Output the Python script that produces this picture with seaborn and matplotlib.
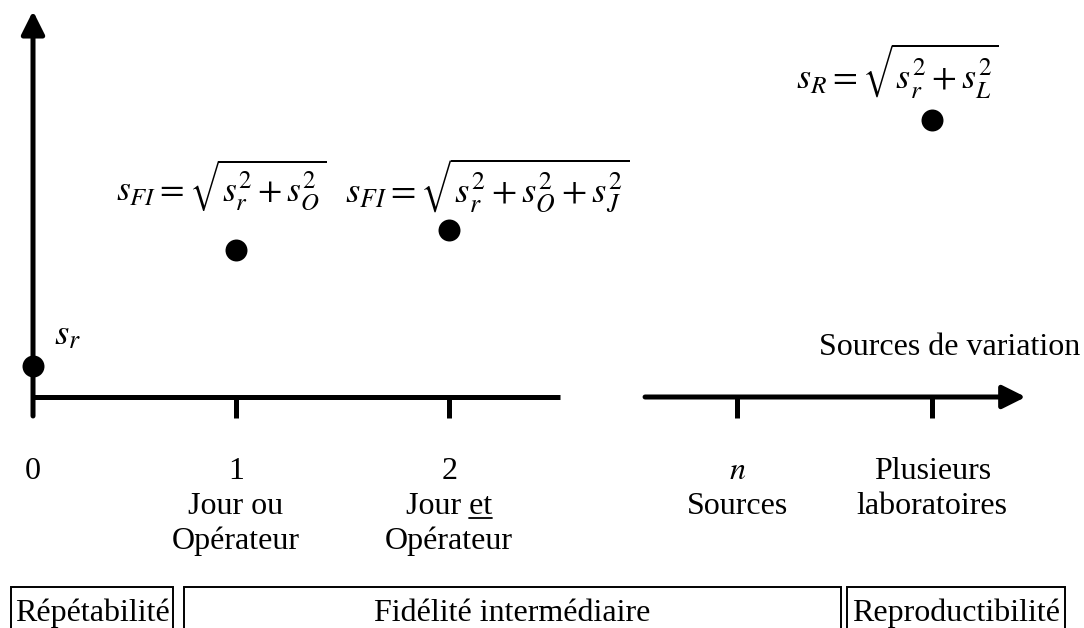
import matplotlib
matplotlib.use("Agg")
import matplotlib.pyplot as plt
import seaborn as sns
from matplotlib.patches import Rectangle

# levels on the "sources de variation" axis (one unit = distance 0 -> 1)
level_x = [0.0, 1.0, 2.05, 3.47, 4.43]
level_top = ["0", "1", "2", "$n$", "Plusieurs"]
level_line2 = ["", "Jour ou", "Jour et", "Sources", "laboratoires"]
level_line3 = ["", "Opérateur", "Opérateur", "", ""]

# standard deviations shown as points
point_x = [0.0, 1.0, 2.05, 4.43]
point_sd = [0.31, 1.47, 1.67, 2.77]
point_labels = [
    r"$s_r$",
    r"$s_{FI} = \sqrt{s_r^2 + s_O^2}$",
    r"$s_{FI} = \sqrt{s_r^2 + s_O^2 + s_J^2}$",
    r"$s_R = \sqrt{s_r^2 + s_L^2}$",
]
label_pos = [(0.105, 0.53), (0.41, 1.95), (1.535, 1.95), (3.76, 3.08)]
label_size = [26.5, 25.5, 26.5, 26]

# precision domains at the bottom
box_names = ["Répétabilité", "Fidélité intermédiaire", "Reproductibilité"]
box_left = [-0.108, 0.742, 4.010]
box_right = [0.692, 3.980, 5.084]

sns.set_theme(style="white")
plt.rcParams["font.family"] = ["Liberation Serif", "DejaVu Serif"]
plt.rcParams["mathtext.fontset"] = "stix"
plt.rcParams["text.color"] = "black"

fig = plt.figure(figsize=(10.84, 6.28), dpi=100)
ax = fig.add_axes([0, 0, 1, 1])

sns.scatterplot(x=point_x, y=point_sd, s=250, color="black", linewidth=0,
                ax=ax, zorder=5)

lw = 3.6
arrow = dict(arrowstyle="-|>,head_length=0.7,head_width=0.35", mutation_scale=20,
             lw=lw, color="black", shrinkA=0, shrinkB=0)
# vertical axis
ax.annotate("", xy=(0, 3.86), xytext=(0, -0.19), arrowprops=arrow)
# horizontal axis, broken between 2 and n
ax.plot([0, 2.596], [0, 0], color="black", lw=lw, solid_capstyle="butt")
ax.annotate("", xy=(4.89, 0), xytext=(3.015, 0), arrowprops=arrow)
ax.vlines(level_x[1:], -0.21, 0, color="black", lw=lw)

fs = 23
for x, t, l2, l3 in zip(level_x, level_top, level_line2, level_line3):
    ax.text(x, -0.82, t, ha="center", va="baseline", fontsize=fs)
    ax.text(x, -1.17, l2, ha="center", va="baseline", fontsize=fs)
    ax.text(x, -1.52, l3, ha="center", va="baseline", fontsize=fs)

ax.text(5.158, 0.42, "Sources de variation", ha="right", va="baseline", fontsize=fs)

for (lx, ly), lab, size in zip(label_pos, point_labels, label_size):
    ax.text(lx, ly, lab, ha="left", va="baseline", fontsize=size)

for name, x0, x1 in zip(box_names, box_left, box_right):
    ax.add_patch(Rectangle((x0, -2.6), x1 - x0, 0.70, fill=False,
                           edgecolor="black", lw=1.4))
    ax.text((x0 + x1) / 2, -2.24, name, ha="center", va="baseline", fontsize=fs)

ax.set_xlim(-0.1626, 5.1773)
ax.set_ylim(-2.31, 3.97)
ax.set_axis_off()

# underline "et" in "Jour et"
fig.canvas.draw()
renderer = fig.canvas.get_renderer()
i = level_line2.index("Jour et")
full = ax.text(level_x[i], -1.17, "Jour et", ha="center", va="baseline", fontsize=fs, alpha=0)
part = ax.text(0, 0, "et", fontsize=fs, alpha=0)
bb = full.get_window_extent(renderer)
w = part.get_window_extent(renderer).width
inv = ax.transData.inverted()
(ux0, _), (ux1, _) = inv.transform([(bb.x1 - w, 0), (bb.x1, 0)])
ax.plot([ux0, ux1], [-1.205, -1.205], color="black", lw=1.3)

fig.savefig("out.png", dpi=100, facecolor="white")
